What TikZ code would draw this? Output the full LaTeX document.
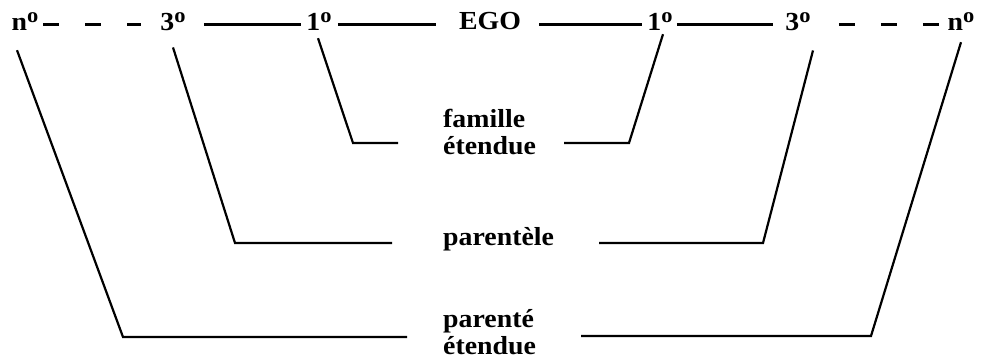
\documentclass[tikz,border=0pt]{standalone}
\usepackage{fontspec}
\setmainfont{Liberation Serif}[FakeStretch=1.07]
\usetikzlibrary{calc}
\newcommand{\dg}{\raisebox{8pt}{\fontsize{21}{21}\selectfont o}}
\begin{document}
\begin{tikzpicture}[x=1pt,y=-1pt,
  txt/.style={inner sep=0pt, font=\fontsize{26}{27}\selectfont\bfseries},
  lbl/.style={txt, align=left, anchor=base west},
  num/.style={txt, anchor=base},
  top/.style={line width=3pt},
  dsh/.style={line width=3pt, dash pattern=on 16pt off 26pt},
  brk/.style={line width=2.2pt, line join=miter}]
\useasboundingbox (0,0) rectangle (982,360);
% top row
\node[num] (nL) at (25,30) {n\dg};
\node[num] (tL) at (173,30) {3\dg};
\node[num] (oL) at (319,30) {1\dg};
\node[num] (ego) at (490,29) {EGO};
\node[num] (oR) at (660,30) {1\dg};
\node[num] (tR) at (798,30) {3\dg};
\node[num] (nR) at (961,30) {n\dg};
% labels
\node[lbl] (fam) at (443,154) {famille\\étendue};
\node[lbl] (par) at (443,245) {parentèle};
\node[lbl] (pet) at (443,354) {parenté\\étendue};
% top connectors
\draw[dsh] ([xshift=4.5pt,yshift=6pt]nL.base east) -- ([xshift=-19pt,yshift=6pt]tL.base west);
\draw[top] ([xshift=18pt,yshift=6pt]tL.base east) -- ([xshift=-5pt,yshift=6pt]oL.base west);
\draw[top] ([xshift=6pt,yshift=6pt]oL.base east) -- ([xshift=-23pt,yshift=5pt]ego.base west);
\draw[top] ([xshift=18pt,yshift=5pt]ego.base east) -- ([xshift=-5pt,yshift=6pt]oR.base west);
\draw[top] ([xshift=4pt,yshift=6pt]oR.base east) -- ([xshift=-12pt,yshift=6pt]tR.base west);
\draw[dsh] ([xshift=28pt,yshift=6pt]tR.base east) -- ([xshift=-8pt,yshift=6pt]nR.base west);
% bracket corners and ends
\coordinate (cL1) at (353,143); \coordinate (eL1) at (398,143);
\coordinate (cR1) at (629,143); \coordinate (eR1) at (564,143);
\coordinate (cL3) at (235,243); \coordinate (eL3) at (392,243);
\coordinate (cR3) at (763,243); \coordinate (eR3) at (599,243);
\coordinate (cLn) at (123,337); \coordinate (eLn) at (407,337);
\coordinate (cRn) at (871,336); \coordinate (eRn) at (581,336);
% brackets
\draw[brk] ($(oL.south)+(-1,8)$) -- (cL1) -- (eL1);
\draw[brk] ($(oR.south)+(3,4)$) -- (cR1) -- (eR1);
\draw[brk] ($(tL.south)+(0,17)$) -- (cL3) -- (eL3);
\draw[brk] ($(tR.south)+(15,20)$) -- (cR3) -- (eR3);
\draw[brk] ($(nL.south)+(-8,20)$) -- (cLn) -- (eLn);
\draw[brk] ($(nR.south)+(0,12)$) -- (cRn) -- (eRn);
\end{tikzpicture}
\end{document}
